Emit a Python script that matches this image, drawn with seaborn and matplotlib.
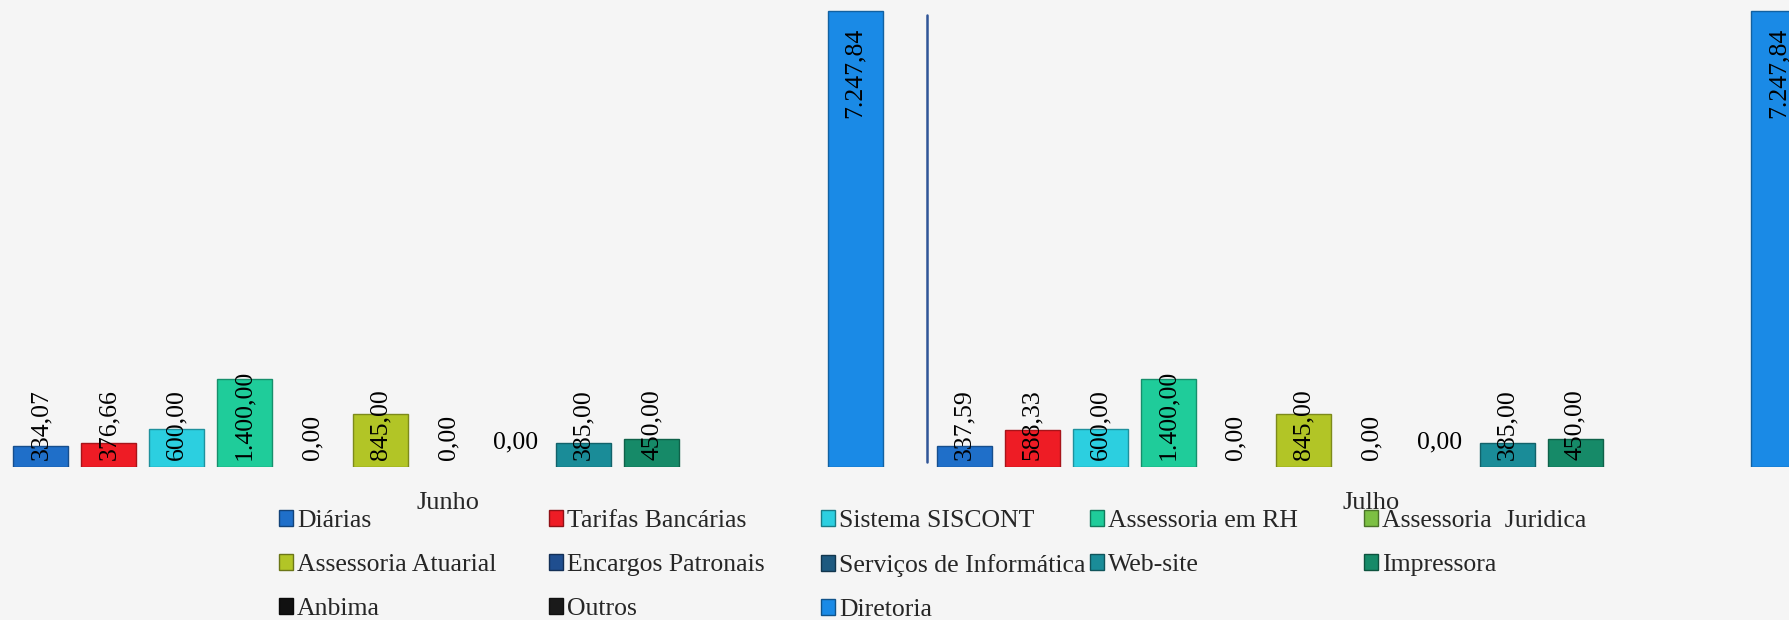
import numpy as np
import pandas as pd
import matplotlib
matplotlib.use("Agg")
import matplotlib.pyplot as plt
import matplotlib.colors as mcolors
from matplotlib.patches import Patch
import seaborn as sns

# ---------------- data ----------------
months = ["Junho", "Julho"]
series = ["Diárias", "Tarifas Bancárias", "Sistema SISCONT", "Assessoria em RH",
          "Assessoria  Juridica", "Assessoria Atuarial", "Encargos Patronais",
          "Serviços de Informática", "Web-site", "Impressora", "Anbima", "Outros",
          "Diretoria"]
junho = [334.07, 376.66, 600.00, 1400.00, 0.00, 845.00, 0.00, 0.00, 385.00, 450.00,
         np.nan, np.nan, 7247.84]
julho = [337.59, 588.33, 600.00, 1400.00, 0.00, 845.00, 0.00, 0.00, 385.00, 450.00,
         np.nan, np.nan, 7247.84]
colors = ["#1f6fc9", "#ee1c25", "#2ccfe0", "#1fcc9a", "#7cc043", "#b2c526",
          "#1f4e8f", "#1e5a80", "#1a8c98", "#168a68", "#111111", "#1a1a1a",
          "#1a8ae6"]
horizontal_label = ["Serviços de Informática"]

rows = []
for m, vals in zip(months, [junho, julho]):
    for s, v in zip(series, vals):
        rows.append({"mes": m, "serie": s, "valor": v})
df = pd.DataFrame(rows)
df_plot = df.dropna()

# ---------------- figure ----------------
sns.set_theme(style="white")
plt.rcParams["font.family"] = ["Liberation Serif", "DejaVu Serif"]

W, H = 1790, 620
fig = plt.figure(figsize=(W / 100, H / 100), dpi=100)
fig.patch.set_facecolor("#f5f5f5")
base_px = 467
ax = fig.add_axes([0, (H - base_px) / H, 1, base_px / H])
ax.set_facecolor("none")

palette = dict(zip(series, colors))
sns.barplot(data=df_plot, x="mes", y="valor", hue="serie", order=months,
            hue_order=series, palette=palette, width=0.955, gap=0.19,
            errorbar=None, legend=False, ax=ax, linewidth=0, saturation=1)

ymax = 7247.84 * base_px / 456
ax.set_ylim(0, ymax)
ax.set_xlim(-0.485, 1.453)

for sp in ax.spines.values():
    sp.set_visible(False)
ax.set_yticks([])
ax.set_xlabel("")
ax.set_ylabel("")
ax.tick_params(axis="x", length=0, pad=18, labelsize=19)

# bevel-ish edges
for p in ax.patches:
    if p.get_height() > 0:
        fc = np.array(mcolors.to_rgb(p.get_facecolor()))
        p.set_edgecolor(tuple(fc * 0.7))
        p.set_linewidth(1.0)

def fmt(v):
    s = f"{v:,.2f}"
    return s.replace(",", "X").replace(".", ",").replace("X", ".")

present = [s for s in series if df_plot["serie"].eq(s).any()]
levels = series if len(ax.containers) == len(series) else present
px_per_unit = ymax / base_px
first_julho_left = None
lab_fs = 18.5
for level, cont in zip(levels, ax.containers):
    for bar in cont:
        v = bar.get_height()
        if not np.isfinite(v):
            continue
        xc = bar.get_x() + bar.get_width() / 2
        if level == series[0] and xc > 0.5:
            first_julho_left = bar.get_x()
        if level in horizontal_label:
            ax.text(xc, 25 * px_per_unit, fmt(v), ha="center", va="center",
                    fontsize=lab_fs, color="black")
        elif v > 3000:
            ax.text(xc, v - 17 * px_per_unit, fmt(v), rotation=90, ha="center",
                    va="top", fontsize=lab_fs, color="black")
        else:
            ax.text(xc, 7 * px_per_unit, fmt(v), rotation=90, ha="center",
                    va="bottom", fontsize=lab_fs, color="black")

# separator line between months
if first_julho_left is not None:
    ax.axvline(first_julho_left - 0.011, ymin=0.011, ymax=0.968,
               color="#2f5597", lw=1.8)

# ---------------- legend (row-wise, uniform columns) ----------------
handles = [Patch(facecolor=c, edgecolor=tuple(np.array(mcolors.to_rgb(c)) * 0.6),
                 linewidth=1) for c in colors]
col_x = [279, 549, 821, 1090, 1364]
ncol = 5
for ci in range(ncol):
    idx = list(range(ci, len(series), ncol))
    fig.legend([handles[i] for i in idx], [series[i] for i in idx],
               loc="upper left", bbox_to_anchor=(col_x[ci] / W, 1 - 510 / H),
               frameon=False, fontsize=18.5, borderpad=0, borderaxespad=0,
               handlelength=0.56, handleheight=0.56, handletextpad=0.15,
               labelspacing=0.86)

fig.savefig("out.png", dpi=100, facecolor=fig.get_facecolor())
